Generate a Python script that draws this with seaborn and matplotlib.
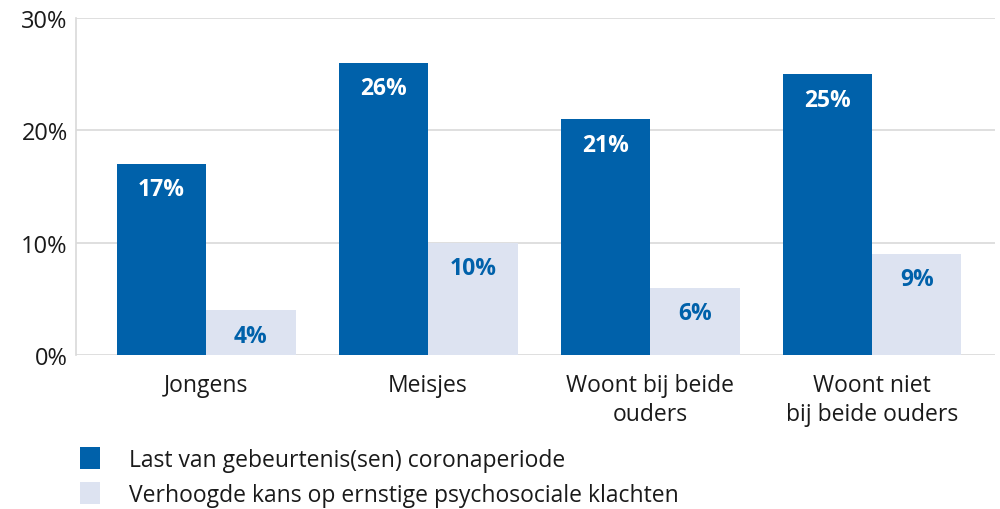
import pandas as pd
import matplotlib.pyplot as plt
import seaborn as sns
from matplotlib.patches import Patch

# ========= DATOS =========
categorias = ["Jongens", "Meisjes", "Woont bij beide\nouders", "Woont niet\nbij beide ouders"]
series = ["Last van gebeurtenis(sen) coronaperiode",
          "Verhoogde kans op ernstige psychosociale klachten"]
last_corona = [17, 26, 21, 25]
verhoogde_kans = [4, 10, 6, 9]

COLORES = ["#0061AA", "#DDE3F1"]
COLOR_TEXTO = ["white", "#0061AA"]

df = pd.DataFrame({
    "categoria": categorias * 2,
    "serie": [series[0]] * 4 + [series[1]] * 4,
    "valor": last_corona + verhoogde_kans,
})

# ========= GRAFICA =========
sns.set_style("white")
plt.rcParams["font.family"] = ["Open Sans", "DejaVu Sans"]

fig = plt.figure(figsize=(10, 5.1), dpi=100)
ax = fig.add_axes([0.076, 0.302, 0.919, 0.661])

sns.barplot(data=df, x="categoria", y="valor", hue="serie", palette=COLORES,
            width=0.806, saturation=1, legend=False, linewidth=0, ax=ax)

for i, cont in enumerate(ax.containers):
    ax.bar_label(cont, labels=[f"{v:.0f}%" for v in cont.datavalues],
                 label_type="edge", padding=-27, color=COLOR_TEXTO[i],
                 fontsize=16.5, fontweight="bold")

ax.set_ylim(0, 30)
ax.set_xlim(-0.586, 3.554)
ax.set_yticks([0, 10, 20, 30])
ax.set_yticklabels(["0%", "10%", "20%", "30%"], fontsize=17, color="#1a1a1a")
ax.tick_params(axis="x", labelsize=16.5, colors="#1a1a1a", length=0, pad=13)
ax.tick_params(axis="y", length=0, pad=6)
for lab in ax.get_xticklabels():
    lab.set_linespacing(1.25)
ax.grid(axis="y", color="#d9d9d9", linewidth=1.2)
ax.set_axisbelow(True)
ax.set_xlabel("")
ax.set_ylabel("")
for s in ["top", "right", "bottom"]:
    ax.spines[s].set_visible(False)
ax.spines["left"].set_color("#d9d9d9")
ax.spines["left"].set_linewidth(1.2)

# leyenda abajo a la izquierda, un poco más arriba para que no se corte
handles = [Patch(facecolor=c, edgecolor="none") for c in COLORES]
fig.legend(handles, series, loc="upper left", bbox_to_anchor=(0.064, 0.153),
           frameon=False, fontsize=16.5, handlelength=0.85, handleheight=1.1,
           handletextpad=1.3, labelspacing=0.45, labelcolor="#1a1a1a",
           borderpad=0.2)

plt.savefig("out.png", dpi=100)
plt.close()
